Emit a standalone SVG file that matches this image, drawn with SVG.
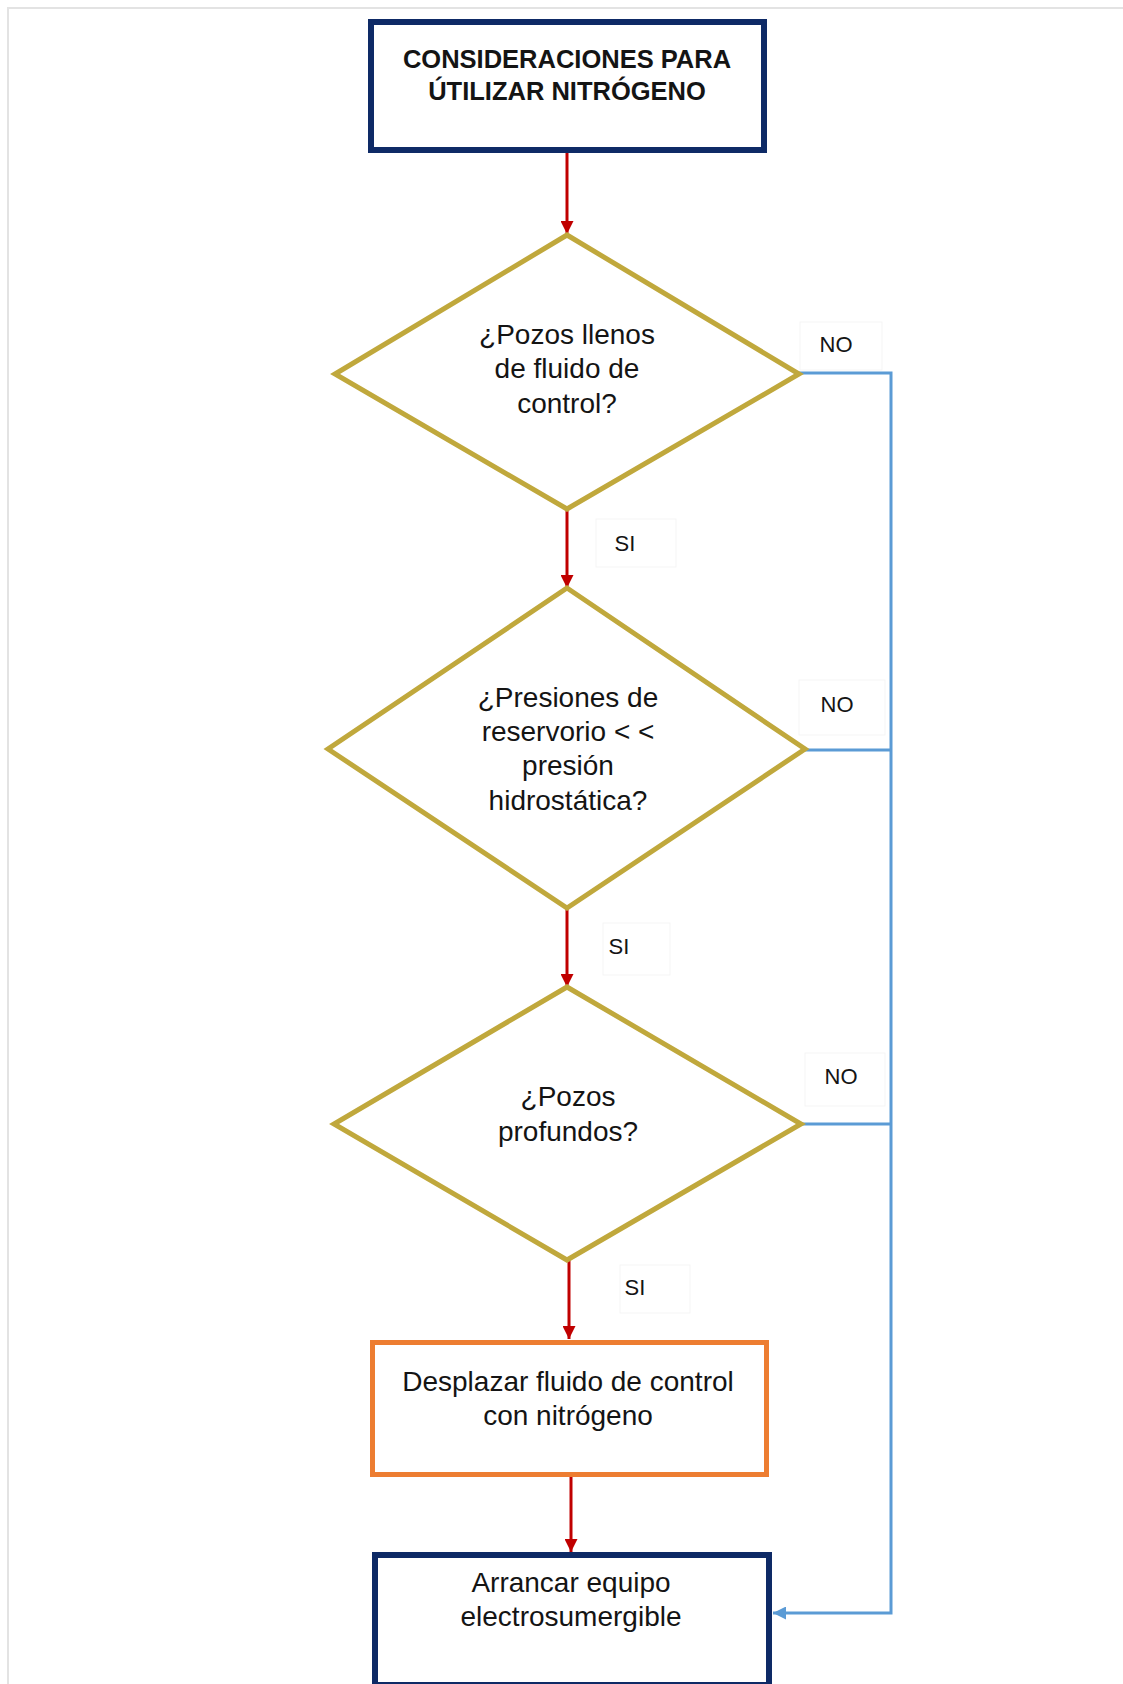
<svg xmlns="http://www.w3.org/2000/svg" width="1123" height="1684" viewBox="0 0 1123 1684">
<style>
.t{font-family:"Liberation Sans",Arial,sans-serif;fill:#141414;text-anchor:middle}
.q{font-size:28px}
.h{font-size:25.5px;font-weight:bold}
.lb{font-size:22px}
.dia{fill:#fff;stroke:#c0a83c;stroke-width:5;stroke-linejoin:miter}
.navy{fill:#fff;stroke:#0e2a66;stroke-width:6}
.org{fill:#fff;stroke:#ed7d31;stroke-width:5}
.lbox{fill:#fff;stroke:#f5f5f5;stroke-width:1}
.red{stroke:#c00000;stroke-width:3;fill:none}
.blue{stroke:#5b9bd5;stroke-width:3;fill:none}
</style>
<defs>
<marker id="ar" viewBox="0 0 14 14" refX="14" refY="7" markerWidth="13" markerHeight="13" markerUnits="userSpaceOnUse" orient="auto"><path d="M0,0 L14,7 L0,14 z" fill="#c00000"/></marker>
<marker id="ab" viewBox="0 0 14 14" refX="14" refY="7" markerWidth="13" markerHeight="13" markerUnits="userSpaceOnUse" orient="auto"><path d="M0,0 L14,7 L0,14 z" fill="#5b9bd5"/></marker>
</defs>
<rect width="1123" height="1684" fill="#fff"/>
<g id="frame" stroke="#e3e3e3" stroke-width="2"><line x1="7" y1="8" x2="1123" y2="8"/><line x1="8" y1="7" x2="8" y2="1684"/></g>

<g id="connectors">
<line class="red" x1="567" y1="153" x2="567" y2="234" marker-end="url(#ar)"/>
<line class="red" x1="567" y1="509" x2="567" y2="588" marker-end="url(#ar)"/>
<line class="red" x1="567" y1="908" x2="567" y2="987" marker-end="url(#ar)"/>
<line class="red" x1="569" y1="1260" x2="569" y2="1339" marker-end="url(#ar)"/>
<line class="red" x1="571" y1="1477" x2="571" y2="1552" marker-end="url(#ar)"/>
<polyline class="blue" points="798,373 891,373 891,1613 773,1613" marker-end="url(#ab)"/>
<line class="blue" x1="805" y1="750" x2="891" y2="750"/>
<line class="blue" x1="801" y1="1124" x2="891" y2="1124"/>
</g>

<g id="labels">
<g id="lbl-no1"><rect class="lbox" x="800" y="322" width="82" height="48"/><text class="t lb" x="836" y="352">NO</text></g>
<g id="lbl-no2"><rect class="lbox" x="799" y="680" width="86" height="55"/><text class="t lb" x="837" y="712">NO</text></g>
<g id="lbl-no3"><rect class="lbox" x="805" y="1053" width="80" height="53"/><text class="t lb" x="841" y="1084">NO</text></g>
<g id="lbl-si1"><rect class="lbox" x="596" y="519" width="80" height="48"/><text class="t lb" x="625" y="551">SI</text></g>
<g id="lbl-si2"><rect class="lbox" x="603" y="923" width="67" height="52"/><text class="t lb" x="619" y="954">SI</text></g>
<g id="lbl-si3"><rect class="lbox" x="620" y="1265" width="70" height="48"/><text class="t lb" x="635" y="1295">SI</text></g>
</g>

<g id="start">
<rect class="navy" x="371" y="22" width="393" height="128"/>
<text class="t h" x="567" y="68">CONSIDERACIONES PARA</text>
<text class="t h" x="567" y="100">ÚTILIZAR NITRÓGENO</text>
</g>

<g id="d1">
<polygon class="dia" points="567,235 799,374 567,509 335,374"/>
<text class="t q" x="567" y="344">¿Pozos llenos</text>
<text class="t q" x="567" y="378">de fluido de</text>
<text class="t q" x="567" y="413">control?</text>
</g>

<g id="d2">
<polygon class="dia" points="567,588 805,749 567,908 328,749"/>
<text class="t q" x="568" y="707">¿Presiones de</text>
<text class="t q" x="568" y="741">reservorio &lt; &lt;</text>
<text class="t q" x="568" y="775">presión</text>
<text class="t q" x="568" y="810">hidrostática?</text>
</g>

<g id="d3">
<polygon class="dia" points="567,987 801,1124 567,1260 334,1124"/>
<text class="t q" x="568" y="1106">¿Pozos</text>
<text class="t q" x="568" y="1141">profundos?</text>
</g>

<g id="p1">
<rect class="org" x="372.5" y="1342.5" width="394" height="132"/>
<text class="t q" x="568" y="1391">Desplazar fluido de control</text>
<text class="t q" x="568" y="1425">con nitrógeno</text>
</g>

<g id="end">
<rect class="navy" x="375" y="1555" width="394" height="130"/>
<text class="t q" x="571" y="1592">Arrancar equipo</text>
<text class="t q" x="571" y="1626">electrosumergible</text>
</g>
</svg>
